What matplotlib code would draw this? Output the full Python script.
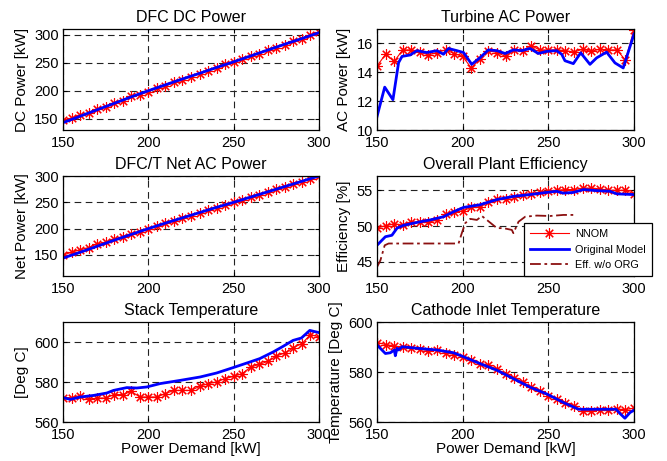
import matplotlib
matplotlib.use("Agg")
import matplotlib.pyplot as plt
from matplotlib.lines import Line2D

plt.rcParams['font.family'] = ['Liberation Sans', 'DejaVu Sans']

# --- data -------------------------------------------------------------
demand = [150, 155, 160, 165, 170, 175, 180, 185, 190, 195, 200, 205, 210,
          215, 220, 225, 230, 235, 240, 245, 250, 255, 260, 265, 270, 275,
          280, 285, 290, 295, 300]
demand10 = [150, 160, 170, 180, 190, 200, 210, 220, 230, 240, 250, 260,
            270, 280, 290, 300]

dc_nnom = [147, 151, 157, 160, 168, 171, 179, 182, 191, 193, 198, 205, 208,
           215, 219, 225, 230, 236, 240, 247, 252, 257, 262, 266, 273, 277,
           282, 288, 292, 300, 304]
dc_orig = [143, 154.5, 166, 177.5, 189, 200, 210.5, 221, 231, 241.5, 251.5,
           262, 272.5, 283, 293, 303.5]

net_nnom = [150, 155, 160, 164, 171, 174, 180, 185, 190, 194, 199, 205, 210,
            214, 220, 224, 230, 235, 240, 245, 250, 255, 260, 264, 270, 275,
            279, 285, 289, 295, 300]
net_orig = [144, 155, 166.5, 178, 189, 200, 210.5, 220.5, 230.5, 240.5, 250,
            260, 270, 280, 290, 300]

turb_nnom = [14.43, 15.25, 14.75, 15.55, 15.55, 15.4, 15.2, 15.37, 15.55,
             15.3, 15.1, 14.3, 14.9, 15.5, 15.37, 15.1, 15.55, 15.5, 15.85,
             15.55, 15.55, 15.55, 15.5, 15.4, 15.6, 15.45, 15.6, 15.55, 15.55,
             14.85, 16.95]
turb_x = [150, 154.5, 159.3, 162.6, 164.6, 169.4, 173.3, 179, 185, 188.8,
          191.7, 196.6, 200.5, 205.3, 210, 215, 220, 224.8, 229.6, 234.5,
          239.3, 244.2, 249, 254.8, 257.8, 259.7, 264.6, 268.9, 274.3, 278.2,
          284, 288.9, 293.7, 300]
turb_orig = [10.93, 12.97, 12.1, 14.67, 15.1, 15.2, 15.5, 15.37, 15.5, 15.25,
             15.65, 15.5, 15.37, 14.55, 15.0, 15.55, 15.5, 15.3, 15.55, 15.5,
             15.65, 15.3, 15.45, 15.5, 15.25, 14.8, 14.6, 15.35, 14.55, 15.0,
             15.4, 14.65, 14.3, 16.65]

eff_nnom = [49.7, 50.05, 50.3, 50.15, 50.6, 50.5, 50.5, 50.85, 51.65, 52.0,
            52.1, 52.6, 52.7, 53.35, 53.8, 53.8, 54.05, 54.4, 54.5, 54.75,
            54.95, 55.0, 55.1, 55.1, 55.3, 55.3, 55.2, 55.0, 55.0, 55.0, 54.5]
eff_x = [150, 154.9, 158.7, 161.7, 165.5, 173.3, 181, 188.9, 194.7, 200.5,
         210, 220, 229.6, 239.3, 249, 254.8, 258.8, 264.6, 270.5, 278.2, 286,
         289.9, 300]
eff_orig = [47.3, 48.5, 48.7, 49.7, 50.1, 50.5, 50.85, 51.3, 52.0, 52.6,
            52.97, 53.7, 54.15, 54.4, 54.7, 54.86, 54.6, 54.7, 55.1, 54.95,
            54.86, 54.5, 54.4]
noorg_x = [150, 152, 154.5, 156.8, 197.6, 199.5, 201.5, 204.4, 208.3, 211.2,
           214.1, 220, 223.8, 228.7, 229.6, 232.6, 236.5, 243.3, 251, 258.8,
           265.6]
noorg = [44.25, 45.2, 47.3, 47.55, 47.55, 49.0, 50.4, 51.0, 50.85, 51.4,
         50.85, 49.7, 49.7, 49.45, 49.0, 50.6, 51.3, 51.46, 51.4, 51.55,
         51.55]

stack_nnom = [572.2, 572.2, 573.2, 571.3, 572.0, 572.0, 573.7, 573.7, 575.3,
              572.5, 572.5, 572.5, 574.2, 575.8, 575.8, 575.8, 577.8, 579.2,
              580.0, 581.7, 582.8, 584.2, 587.5, 588.8, 590.3, 593.0, 594.5,
              597.2, 599.2, 603.7, 602.5]
stack_x = [150, 154.3, 160.1, 168, 175.7, 179.6, 187.4, 193.2, 199, 206.9,
           218.6, 230.3, 240, 249.7, 259.5, 265.3, 273.1, 278.9, 284.8, 289.7,
           294.6, 300]
stack_orig = [572.2, 571.3, 572.5, 573.3, 574.5, 575.8, 577.2, 577.0, 577.5,
              579.2, 580.8, 582.5, 584.5, 587.2, 590.0, 591.7, 595.0, 597.8,
              600.8, 602.0, 605.8, 604.7]

cath_nnom = [591.8, 591.0, 590.4, 589.9, 589.5, 589.2, 588.5, 588.8, 587.7,
             587.0, 586.1, 584.7, 583.4, 582.7, 581.1, 579.3, 577.7, 576.0,
             573.9, 572.6, 570.5, 569.2, 567.8, 566.5, 564.5, 564.5, 564.7,
             564.7, 565.1, 565.0, 565.5]
cath_x = [150, 154.9, 157.8, 160.1, 160.7, 161.7, 162.6, 164.6, 173.3, 185,
          194.7, 200.5, 210, 220, 229.7, 239.4, 249.1, 258.8, 267.6, 278.2,
          289.5, 291.8, 294.7, 297.7, 300]
cath_orig = [590.8, 587.4, 587.7, 588.8, 586.5, 589.5, 588.8, 590.1, 589.5,
             588.8, 587.7, 586.1, 583.4, 580.7, 577.3, 573.9, 571.2, 567.8,
             565.1, 565.1, 565.1, 563.4, 561.5, 563.8, 564.7]

x_ticks = [150, 200, 250, 300]

# --- figure -----------------------------------------------------------
W, H = 667, 461
fig = plt.figure(figsize=(W / 100, H / 100), dpi=100)


def make_ax(left, top, right, bottom):
    return fig.add_axes([left / W, 1 - bottom / H, (right - left) / W,
                         (bottom - top) / H])


RED = dict(color="red", lw=0.8, marker=(8, 2, 0), ms=7.5, mew=0.8)
BLUE = dict(color="blue", lw=2.0)
DARK = dict(color="#8b1010", lw=1.3, ls=(0, (6, 2, 1.5, 2)))


def style(ax, title, ylabel, ylim, yticks, xlabel=None):
    ax.set_xlim(150, 300)
    ax.set_ylim(*ylim)
    ax.set_xticks(x_ticks)
    ax.set_yticks(yticks)
    ax.grid(True, color="#222222", ls=(0, (6, 4)), lw=0.8)
    ax.tick_params(direction="in", top=True, right=True, length=3,
                   labelsize=10.5, pad=3)
    ax.tick_params(axis="x", pad=4)
    ax.set_title(title, fontsize=11.5, pad=5)
    ax.set_ylabel(ylabel, fontsize=11, labelpad=4)
    if xlabel:
        ax.set_xlabel(xlabel, fontsize=11, labelpad=0)
    for sp in ax.spines.values():
        sp.set_linewidth(0.9)


LX0, LX1 = 63, 319
RX0, RX1 = 377, 634
ROWS = [(29, 130), (176, 276), (322, 422)]

# DFC DC power
ax = make_ax(LX0, ROWS[0][0], LX1, ROWS[0][1])
ax.plot(demand, dc_nnom, **RED)
ax.plot(demand10, dc_orig, **BLUE)
style(ax, "DFC DC Power", "DC Power [kW]", (130, 310), [150, 200, 250, 300])

# Turbine AC power
ax = make_ax(RX0, ROWS[0][0], RX1, ROWS[0][1])
ax.plot(demand, turb_nnom, **RED)
ax.plot(turb_x, turb_orig, **BLUE)
style(ax, "Turbine AC Power", "AC Power [kW]", (10, 17), [10, 12, 14, 16])

# Net AC power
ax = make_ax(LX0, ROWS[1][0], LX1, ROWS[1][1])
ax.plot(demand, net_nnom, **RED)
ax.plot(demand10, net_orig, **BLUE)
style(ax, "DFC/T Net AC Power", "Net Power [kW]", (110, 300),
      [150, 200, 250, 300])

# Overall efficiency
ax = make_ax(RX0, ROWS[1][0], RX1, ROWS[1][1])
ax.plot(demand, eff_nnom, **RED)
ax.plot(eff_x, eff_orig, **BLUE)
ax.plot(noorg_x, noorg, **DARK)
style(ax, "Overall Plant Efficiency", "Efficiency [%]", (43, 57), [45, 50, 55])
handles = [Line2D([], [], **RED), Line2D([], [], **BLUE),
           Line2D([], [], **DARK)]
leg = ax.legend(handles, ["NNOM", "Original Model", "Eff. w/o ORG"],
                loc="lower left", bbox_to_anchor=(0.572, 0.0), fontsize=7.8,
                fancybox=False, framealpha=1, edgecolor="black",
                borderaxespad=0, handlelength=3.6, handletextpad=0.6,
                labelspacing=0.5, borderpad=0.55)
leg.get_frame().set_linewidth(0.9)
leg.set_zorder(5)

# Stack temperature
ax = make_ax(LX0, ROWS[2][0], LX1, ROWS[2][1])
ax.plot(demand, stack_nnom, **RED)
ax.plot(stack_x, stack_orig, **BLUE)
style(ax, "Stack Temperature", "[Deg C]", (560, 610), [560, 580, 600],
      xlabel="Power Demand [kW]")

# Cathode inlet temperature
ax = make_ax(RX0, ROWS[2][0], RX1, ROWS[2][1])
ax.plot(demand, cath_nnom, **RED)
ax.plot(cath_x, cath_orig, **BLUE)
style(ax, "Cathode Inlet Temperature", "Temperature [Deg C]", (560, 600),
      [560, 580, 600], xlabel="Power Demand [kW]")

fig.savefig("out.png", dpi=100)
